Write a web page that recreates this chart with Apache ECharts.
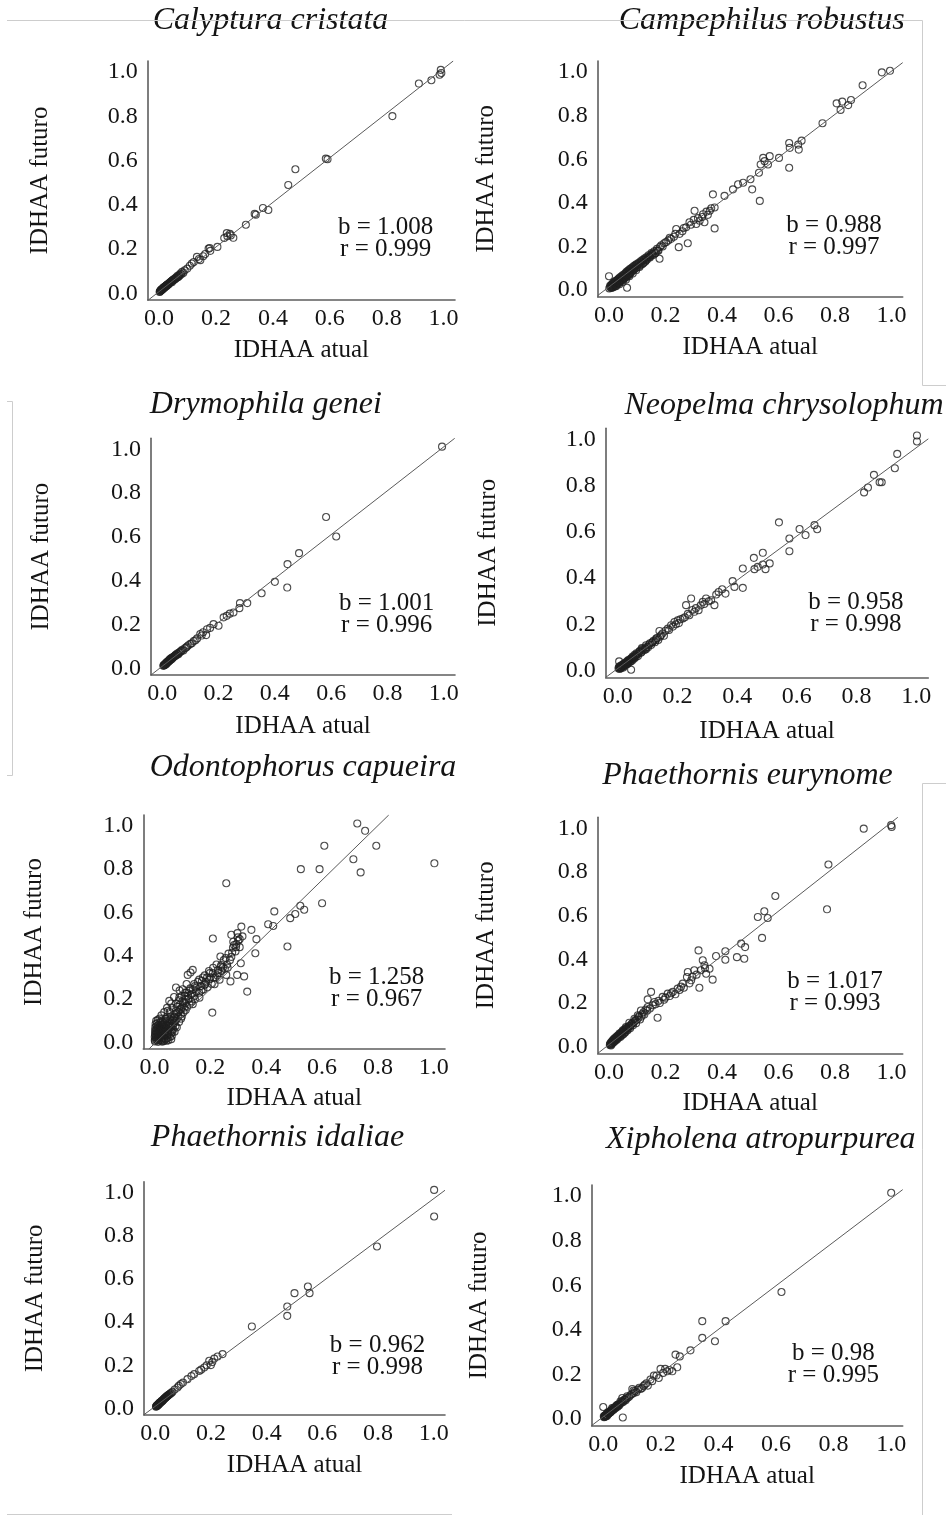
<!DOCTYPE html>
<html>
<head>
<meta charset="utf-8">
<script src="https://cdn.jsdelivr.net/npm/echarts@6/dist/echarts.min.js"></script>
<style>
  html, body { margin: 0; padding: 0; background: #ffffff; }
  #chart { width: 946px; height: 1515px; }
</style>
</head>
<body>
<div id="chart"></div>
<script>
// ---------------- data ----------------
const species = [
  'Calyptura cristata', 'Campephilus robustus',
  'Drymophila genei', 'Neopelma chrysolophum',
  'Odontophorus capueira', 'Phaethornis eurynome',
  'Phaethornis idaliae', 'Xipholena atropurpurea'
];
const slopes = [1.008, 0.988, 1.001, 0.958, 1.258, 1.017, 0.962, 0.98];
const intercepts = [0.008, 0.015, 0.01, 0.008, -0.005, 0.01, 0.01, 0.01];
const correlations = [0.999, 0.997, 0.996, 0.998, 0.967, 0.993, 0.998, 0.995];
const tickValues = [0, 0.2, 0.4, 0.6, 0.8, 1.0];
const xAxisTitle = 'IDHAA atual';
const yAxisTitle = 'IDHAA futuro';

// IDHAA atual (x), IDHAA futuro (y)
const calypturaCristata = [
  [0.990,1.010],[0.992,0.996],[0.986,0.988],[0.957,0.963],[0.913,0.948],[0.820,0.801],
  [0.586,0.609],[0.592,0.606],[0.479,0.561],[0.454,0.490],[0.384,0.377],[0.365,0.386],
  [0.336,0.359],[0.340,0.355],[0.305,0.310],[0.261,0.251],[0.238,0.272],[0.229,0.250],
  [0.249,0.269],[0.252,0.262],[0.240,0.258],[0.205,0.210],[0.180,0.192],[0.174,0.202],
  [0.178,0.205],[0.162,0.178],[0.145,0.150],[0.133,0.165],[0.122,0.142],[0.115,0.135],
  [0.108,0.125],[0.099,0.112],[0.090,0.104],[0.081,0.097],[0.075,0.090],[0.070,0.083],
  [0.064,0.078],[0.060,0.072],[0.056,0.068],[0.050,0.062],[0.046,0.058],[0.042,0.053],
  [0.038,0.049],[0.035,0.046],[0.031,0.041],[0.028,0.038],[0.025,0.035],[0.023,0.032],
  [0.020,0.029],[0.017,0.026],[0.015,0.024],[0.012,0.021],[0.010,0.018],[0.008,0.016],
  [0.006,0.013],[0.004,0.011],[0.003,0.008],[0.002,0.006],[0.045,0.050],[0.033,0.040],
  [0.027,0.033],[0.019,0.025],[0.013,0.019],[0.009,0.014],[0.052,0.060],[0.066,0.073],
  [0.085,0.092],[0.140,0.155],[0.155,0.168],
  [0.005,0.012],[0.007,0.016],[0.011,0.020],[0.014,0.022],[0.016,0.027],[0.018,0.025],
  [0.021,0.030],[0.024,0.033],[0.026,0.036],[0.029,0.039],[0.032,0.042],[0.036,0.045],
  [0.040,0.050],[0.044,0.055],[0.048,0.059],[0.054,0.063],[0.058,0.066],[0.062,0.070],
  [0.068,0.076],[0.072,0.080],[0.078,0.086]
];
const campephilusRobustus = [
  [0.995,1.005],[0.966,0.998],[0.898,0.939],[0.806,0.856],[0.826,0.864],[0.857,0.871],
  [0.820,0.826],[0.847,0.848],[0.756,0.765],[0.638,0.674],[0.640,0.652],[0.670,0.667],
  [0.682,0.685],[0.672,0.644],[0.638,0.561],[0.546,0.606],[0.551,0.591],[0.537,0.576],
  [0.563,0.576],[0.531,0.538],[0.602,0.606],[0.569,0.614],[0.501,0.508],[0.475,0.492],
  [0.457,0.485],[0.439,0.462],[0.507,0.462],[0.534,0.409],[0.409,0.432],[0.368,0.439],
  [0.374,0.379],[0.357,0.364],[0.333,0.348],[0.303,0.364],[0.374,0.283],[0.321,0.318],
  [0.338,0.311],[0.309,0.303],[0.285,0.311],[0.273,0.288],[0.238,0.280],[0.250,0.258],
  [0.279,0.215],[0.247,0.197],[0.220,0.235],[0.202,0.220],[0.185,0.205],[0.173,0.182],
  [0.179,0.144],[0.155,0.167],[0.143,0.152],[0.131,0.136],[0.120,0.121],[0.108,0.106],
  [0.096,0.091],[0.084,0.076],[0.072,0.064],[0.060,0.048],[0.049,0.038],[0.037,0.027],
  [0.025,0.018],[0.013,0.012],[0.001,0.008],[0.000,0.064],[0.064,0.011],
  [0.005,0.015],[0.008,0.022],[0.010,0.012],[0.012,0.028],[0.015,0.020],[0.018,0.035],
  [0.020,0.025],[0.022,0.040],[0.025,0.030],[0.028,0.045],[0.030,0.033],[0.032,0.050],
  [0.035,0.040],[0.038,0.058],[0.040,0.045],[0.043,0.062],[0.045,0.048],[0.048,0.068],
  [0.050,0.055],[0.053,0.072],[0.055,0.058],[0.058,0.078],[0.060,0.065],[0.063,0.085],
  [0.065,0.070],[0.068,0.090],[0.070,0.075],[0.073,0.095],[0.075,0.080],[0.078,0.100],
  [0.080,0.085],[0.083,0.105],[0.085,0.090],[0.088,0.110],[0.090,0.095],[0.093,0.115],
  [0.095,0.100],[0.098,0.120],[0.100,0.105],[0.105,0.125],[0.108,0.112],[0.112,0.132],
  [0.115,0.118],[0.118,0.138],[0.122,0.125],[0.125,0.145],[0.128,0.130],[0.132,0.150],
  [0.135,0.140],[0.140,0.160],[0.145,0.150],[0.150,0.170],[0.155,0.160],[0.160,0.178],
  [0.165,0.170],[0.170,0.190],[0.175,0.180],[0.180,0.198],[0.190,0.200],[0.195,0.215],
  [0.210,0.228],[0.215,0.240],[0.230,0.245],[0.235,0.258],[0.260,0.270],[0.265,0.285],
  [0.290,0.300],[0.300,0.322],[0.315,0.330],[0.330,0.335],[0.345,0.360],[0.350,0.345],
  [0.362,0.375],
  [0.004,0.020],[0.007,0.010],[0.009,0.026],[0.011,0.018],[0.014,0.032],[0.016,0.014],
  [0.019,0.028],[0.021,0.018],[0.024,0.042],[0.026,0.022],[0.029,0.038],[0.031,0.028],
  [0.034,0.052],[0.036,0.034],[0.039,0.048],[0.041,0.040],[0.044,0.056],[0.047,0.044],
  [0.049,0.064],[0.052,0.050],[0.054,0.066],[0.057,0.056],[0.059,0.074],[0.062,0.060],
  [0.064,0.080],[0.067,0.066],[0.069,0.084],[0.072,0.072],[0.074,0.090],[0.077,0.078],
  [0.082,0.096],[0.087,0.100],[0.092,0.106],[0.097,0.112],[0.103,0.118],[0.110,0.122],
  [0.117,0.130],[0.124,0.138],[0.130,0.142],[0.138,0.150],[0.147,0.158],[0.152,0.165],
  [0.162,0.168],[0.168,0.182]
];
const drymophilaGenei = [
  [0.994,1.012],[0.582,0.691],[0.618,0.602],[0.486,0.526],[0.445,0.476],[0.444,0.369],
  [0.400,0.395],[0.353,0.343],[0.302,0.298],[0.276,0.298],[0.274,0.275],[0.253,0.255],
  [0.240,0.250],[0.229,0.240],[0.218,0.233],[0.200,0.195],[0.182,0.202],[0.170,0.185],
  [0.159,0.179],[0.156,0.152],[0.145,0.165],[0.135,0.157],[0.124,0.137],[0.112,0.125],
  [0.100,0.112],[0.093,0.106],[0.088,0.100],[0.080,0.092],[0.071,0.085],[0.065,0.077],
  [0.060,0.072],[0.053,0.068],[0.047,0.060],[0.042,0.055],[0.035,0.050],[0.030,0.044],
  [0.025,0.038],[0.020,0.032],[0.016,0.027],[0.012,0.022],[0.009,0.018],[0.006,0.015],
  [0.004,0.012],[0.010,0.016],[0.014,0.020],[0.018,0.026],[0.022,0.030],[0.027,0.036],
  [0.033,0.042],[0.038,0.050],[0.050,0.060],[0.057,0.065],[0.075,0.082],[0.105,0.115],
  [0.118,0.128],[0.140,0.150],
  [0.005,0.013],[0.008,0.017],[0.011,0.019],[0.013,0.024],[0.015,0.023],[0.017,0.028],
  [0.019,0.030],[0.021,0.033],[0.024,0.034],[0.026,0.040],[0.029,0.040],[0.031,0.046],
  [0.036,0.046],[0.040,0.052],[0.045,0.056],[0.048,0.062],[0.055,0.066],[0.062,0.074],
  [0.068,0.080],[0.085,0.095]
];
const neopelmaChrysolophum = [
  [1.002,1.019],[1.002,0.993],[0.936,0.939],[0.928,0.877],[0.858,0.848],[0.838,0.793],
  [0.825,0.772],[0.877,0.816],[0.884,0.816],[0.540,0.642],[0.609,0.613],[0.629,0.587],
  [0.575,0.572],[0.575,0.517],[0.659,0.630],[0.668,0.612],[0.486,0.510],[0.456,0.488],
  [0.458,0.439],[0.469,0.449],[0.486,0.459],[0.509,0.464],[0.495,0.439],[0.419,0.442],
  [0.385,0.387],[0.391,0.362],[0.419,0.358],[0.350,0.352],[0.361,0.333],[0.330,0.329],
  [0.246,0.312],[0.229,0.283],[0.296,0.312],[0.285,0.297],[0.313,0.304],[0.324,0.283],
  [0.271,0.261],[0.257,0.254],[0.240,0.239],[0.218,0.225],[0.201,0.217],[0.190,0.210],
  [0.179,0.196],[0.168,0.181],[0.140,0.171],[0.145,0.152],[0.129,0.138],[0.117,0.123],
  [0.095,0.109],[0.081,0.097],[0.072,0.080],[0.061,0.065],[0.050,0.051],[0.039,0.039],
  [0.028,0.029],[0.017,0.019],[0.008,0.010],[0.005,0.039],[0.045,0.003],
  [0.003,0.008],[0.006,0.012],[0.010,0.015],[0.012,0.010],[0.014,0.022],[0.018,0.016],
  [0.020,0.026],[0.022,0.020],[0.025,0.030],[0.030,0.034],[0.033,0.028],[0.035,0.040],
  [0.040,0.044],[0.043,0.038],[0.046,0.052],[0.052,0.058],[0.055,0.050],[0.058,0.062],
  [0.065,0.070],[0.068,0.062],[0.075,0.085],[0.078,0.076],[0.085,0.090],[0.090,0.088],
  [0.098,0.102],[0.102,0.100],[0.108,0.118],[0.112,0.110],[0.120,0.128],[0.125,0.122],
  [0.132,0.140],[0.136,0.132],[0.150,0.160],[0.155,0.150],[0.160,0.172],[0.172,0.175],
  [0.185,0.190],[0.195,0.200],[0.205,0.205],[0.210,0.222],[0.225,0.230],[0.235,0.245],
  [0.250,0.262],[0.262,0.270],[0.278,0.282],[0.290,0.288],[0.305,0.300],[0.338,0.340],
  [0.004,0.014],[0.007,0.006],[0.009,0.020],[0.011,0.013],[0.013,0.018],[0.016,0.024],
  [0.019,0.012],[0.021,0.030],[0.024,0.022],[0.027,0.034],[0.029,0.026],[0.032,0.040],
  [0.034,0.032],[0.037,0.046],[0.041,0.036],[0.044,0.050],[0.048,0.042],[0.050,0.060],
  [0.054,0.054],[0.057,0.068],[0.061,0.058],[0.063,0.074],[0.070,0.072],[0.073,0.082],
  [0.080,0.080],[0.083,0.094],[0.092,0.096],[0.095,0.092],[0.105,0.112],[0.115,0.120],
  [0.128,0.132],[0.142,0.146]
];
const odontophorusCapueira = [
  [0.726,1.011],[0.754,0.977],[0.794,0.908],[0.608,0.908],[1.002,0.827],[0.712,0.846],
  [0.738,0.785],[0.524,0.800],[0.591,0.800],[0.257,0.735],[0.600,0.643],[0.522,0.631],
  [0.536,0.613],[0.504,0.593],[0.486,0.574],[0.429,0.605],[0.425,0.538],[0.407,0.546],
  [0.476,0.443],[0.365,0.477],[0.347,0.520],[0.361,0.412],[0.311,0.535],[0.297,0.505],
  [0.305,0.477],[0.293,0.454],[0.281,0.438],[0.275,0.497],[0.209,0.480],[0.309,0.366],
  [0.321,0.305],[0.332,0.235],[0.296,0.312],[0.272,0.282],[0.257,0.312],[0.236,0.397],
  [0.239,0.358],[0.227,0.334],[0.245,0.346],[0.209,0.320],[0.197,0.292],[0.173,0.300],
  [0.182,0.269],[0.215,0.269],[0.137,0.335],[0.119,0.312],[0.129,0.323],[0.207,0.138],
  [0.149,0.254],[0.125,0.238],[0.101,0.246],[0.077,0.254],[0.089,0.207],[0.113,0.200],
  [0.143,0.215],[0.161,0.207],[0.137,0.177],[0.107,0.161],[0.077,0.146],[0.053,0.192],
  [0.047,0.146],[0.071,0.115],[0.041,0.108],[0.029,0.084],[0.017,0.069],[0.011,0.046],
  [0.023,0.031],[0.005,0.023],[0.035,0.008],[0.059,0.054],[0.065,0.084],[0.095,0.130],
  [0.002,0.005],[0.004,0.015],[0.006,0.028],[0.008,0.040],[0.010,0.055],[0.012,0.068],
  [0.014,0.080],[0.003,0.035],[0.005,0.050],[0.007,0.062],[0.009,0.010],[0.011,0.020],
  [0.013,0.032],[0.015,0.045],[0.017,0.058],[0.019,0.072],[0.021,0.090],[0.016,0.010],
  [0.018,0.022],[0.020,0.036],[0.022,0.048],[0.024,0.062],[0.026,0.078],[0.028,0.095],
  [0.025,0.012],[0.027,0.025],[0.029,0.040],[0.031,0.055],[0.033,0.070],[0.035,0.088],
  [0.030,0.005],[0.034,0.020],[0.036,0.035],[0.038,0.050],[0.040,0.065],[0.042,0.082],
  [0.044,0.100],[0.040,0.015],[0.045,0.030],[0.048,0.045],[0.050,0.060],[0.052,0.078],
  [0.055,0.092],[0.050,0.010],[0.055,0.025],[0.058,0.040],[0.060,0.070],[0.062,0.100],
  [0.066,0.060],[0.070,0.090],[0.072,0.130],[0.075,0.075],[0.080,0.110],[0.082,0.165],
  [0.085,0.140],[0.088,0.095],[0.092,0.175],[0.095,0.155],[0.098,0.120],[0.100,0.190],
  [0.104,0.140],[0.108,0.215],[0.110,0.180],[0.115,0.230],[0.118,0.165],[0.122,0.200],
  [0.128,0.250],[0.132,0.190],[0.135,0.225],[0.142,0.270],[0.145,0.200],[0.150,0.235],
  [0.155,0.280],[0.160,0.230],[0.165,0.260],[0.170,0.285],[0.175,0.245],[0.180,0.310],
  [0.185,0.280],[0.190,0.255],[0.195,0.330],[0.200,0.300],[0.205,0.270],[0.210,0.345],
  [0.218,0.300],[0.222,0.360],[0.228,0.320],[0.233,0.290],[0.240,0.330],[0.248,0.380],
  [0.252,0.340],[0.260,0.360],[0.265,0.410],[0.270,0.380],[0.278,0.415],[0.285,0.450],
  [0.290,0.420],[0.300,0.470],[0.305,0.440],[0.315,0.490],[0.060,0.180],[0.070,0.210],
  [0.090,0.240],[0.115,0.270],[0.018,0.110],[0.025,0.125],[0.035,0.140],[0.045,0.160],
  [0.001,0.010],[0.001,0.025],[0.002,0.040],[0.002,0.055],[0.003,0.070],[0.004,0.085],
  [0.006,0.100],[0.008,0.075],[0.010,0.090],[0.012,0.105],[0.013,0.003],[0.014,0.018],
  [0.016,0.030],[0.018,0.042],[0.020,0.055],[0.022,0.068],[0.023,0.080],[0.024,0.100],
  [0.026,0.005],[0.028,0.015],[0.030,0.028],[0.032,0.045],[0.034,0.060],[0.036,0.075],
  [0.038,0.095],[0.040,0.110],[0.043,0.008],[0.046,0.020],[0.048,0.035],[0.050,0.050],
  [0.052,0.068],[0.054,0.085],[0.056,0.105],[0.058,0.120],[0.060,0.015],[0.062,0.030],
  [0.064,0.048],[0.066,0.075],[0.068,0.105],[0.070,0.120],[0.072,0.050],[0.075,0.100],
  [0.078,0.135],[0.080,0.070],[0.085,0.120],[0.090,0.150],[0.095,0.110],[0.100,0.165],
  [0.105,0.185],[0.112,0.150],[0.120,0.215],[0.125,0.175],[0.130,0.220],[0.138,0.245],
  [0.145,0.260],[0.160,0.290],[0.168,0.240],[0.178,0.265],[0.188,0.300],[0.198,0.320],
  [0.212,0.300],[0.225,0.310],[0.238,0.350],[0.255,0.390],[0.262,0.345],[0.275,0.395],
  [0.282,0.465],[0.292,0.440],[0.298,0.485],[0.045,0.120],[0.055,0.140],[0.065,0.160],
  [0.078,0.180],[0.088,0.195],[0.098,0.215],[0.110,0.230]
];
const phaethornisEurynome = [
  [0.999,1.014],[1.001,1.006],[0.902,0.998],[0.777,0.834],[0.772,0.629],[0.589,0.690],
  [0.550,0.620],[0.527,0.594],[0.562,0.589],[0.542,0.498],[0.468,0.472],[0.482,0.456],
  [0.453,0.410],[0.479,0.403],[0.412,0.437],[0.412,0.398],[0.379,0.415],[0.317,0.441],
  [0.367,0.307],[0.320,0.270],[0.356,0.357],[0.338,0.373],[0.332,0.396],[0.344,0.334],
  [0.302,0.350],[0.279,0.342],[0.276,0.319],[0.291,0.304],[0.261,0.289],[0.243,0.266],
  [0.226,0.251],[0.208,0.243],[0.190,0.228],[0.149,0.251],[0.137,0.217],[0.172,0.133],
  [0.161,0.205],[0.137,0.182],[0.113,0.166],[0.102,0.144],[0.090,0.128],[0.072,0.110],
  [0.060,0.090],[0.049,0.075],[0.037,0.060],[0.025,0.040],[0.013,0.025],[0.005,0.014],
  [0.003,0.008],[0.006,0.018],[0.008,0.010],[0.010,0.022],[0.012,0.015],[0.015,0.030],
  [0.018,0.022],[0.020,0.035],[0.022,0.028],[0.026,0.045],[0.028,0.032],[0.030,0.050],
  [0.033,0.040],[0.036,0.055],[0.040,0.045],[0.042,0.062],[0.045,0.052],[0.048,0.068],
  [0.052,0.058],[0.055,0.080],[0.058,0.066],[0.062,0.085],[0.066,0.075],[0.070,0.095],
  [0.075,0.085],[0.080,0.105],[0.085,0.098],[0.092,0.118],[0.096,0.108],[0.105,0.135],
  [0.110,0.125],[0.118,0.150],[0.125,0.148],[0.130,0.170],[0.145,0.175],[0.155,0.190],
  [0.165,0.195],[0.175,0.210],[0.180,0.200],[0.195,0.215],[0.200,0.225],[0.215,0.232],
  [0.220,0.245],[0.235,0.240],[0.250,0.260],[0.255,0.275],[0.265,0.270],[0.285,0.290],
  [0.295,0.320],[0.310,0.330],[0.325,0.350],[0.340,0.360],
  [0.004,0.012],[0.007,0.006],[0.009,0.016],[0.011,0.026],[0.014,0.020],[0.016,0.034],
  [0.019,0.028],[0.021,0.040],[0.024,0.032],[0.027,0.038],[0.031,0.044],[0.034,0.052],
  [0.038,0.048],[0.041,0.058],[0.044,0.066],[0.047,0.056],[0.051,0.070],[0.054,0.064],
  [0.057,0.074],[0.060,0.080],[0.064,0.078],[0.068,0.088],[0.073,0.092],[0.078,0.098],
  [0.083,0.108],[0.088,0.112],[0.094,0.122],[0.100,0.125],[0.107,0.140],[0.115,0.138],
  [0.122,0.158],[0.135,0.165]
];
const phaethornisIdaliae = [
  [1.001,1.012],[1.001,0.889],[0.796,0.750],[0.548,0.565],[0.554,0.534],[0.500,0.534],
  [0.474,0.472],[0.474,0.429],[0.347,0.380],[0.242,0.252],[0.224,0.241],[0.212,0.231],
  [0.200,0.201],[0.194,0.221],[0.205,0.215],[0.176,0.190],[0.185,0.200],[0.158,0.174],
  [0.165,0.180],[0.140,0.159],[0.130,0.150],[0.116,0.136],[0.100,0.120],[0.092,0.113],
  [0.085,0.105],[0.080,0.097],[0.070,0.088],[0.062,0.077],[0.055,0.070],[0.050,0.065],
  [0.044,0.059],[0.038,0.052],[0.032,0.045],[0.026,0.035],[0.020,0.030],[0.015,0.025],
  [0.011,0.020],[0.008,0.015],[0.005,0.012],[0.003,0.008],[0.012,0.018],[0.018,0.027],
  [0.023,0.031],[0.029,0.040],[0.035,0.048],[0.041,0.055],[0.047,0.062],[0.058,0.072],
  [0.004,0.010],[0.006,0.014],[0.007,0.012],[0.009,0.017],[0.010,0.016],[0.013,0.022],
  [0.014,0.021],[0.016,0.027],[0.017,0.024],[0.019,0.029],[0.022,0.033],[0.024,0.036],
  [0.028,0.038],[0.030,0.043],[0.034,0.046],[0.037,0.050],[0.040,0.054],[0.043,0.057],
  [0.046,0.060],[0.052,0.066]
];
const xipholenaAtropurpurea = [
  [1.000,1.015],[0.619,0.570],[0.425,0.439],[0.344,0.439],[0.344,0.364],[0.388,0.349],
  [0.303,0.308],[0.251,0.289],[0.266,0.281],[0.257,0.232],[0.240,0.214],[0.222,0.214],
  [0.199,0.225],[0.208,0.207],[0.193,0.184],[0.176,0.195],[0.164,0.177],[0.144,0.154],
  [0.135,0.139],[0.101,0.135],[0.106,0.117],[0.083,0.102],[0.066,0.094],[0.060,0.079],
  [0.049,0.064],[0.031,0.049],[0.014,0.027],[0.002,0.012],[0.000,0.054],[0.068,0.007],
  [0.004,0.010],[0.006,0.016],[0.008,0.012],[0.010,0.020],[0.012,0.016],[0.015,0.025],
  [0.018,0.022],[0.020,0.030],[0.023,0.028],[0.026,0.038],[0.028,0.034],[0.032,0.042],
  [0.035,0.040],[0.038,0.050],[0.042,0.048],[0.045,0.058],[0.050,0.055],[0.053,0.066],
  [0.056,0.062],[0.062,0.072],[0.065,0.080],[0.070,0.078],[0.075,0.088],[0.078,0.084],
  [0.085,0.095],[0.090,0.100],[0.095,0.108],[0.110,0.125],[0.115,0.120],[0.120,0.132],
  [0.125,0.140],[0.130,0.135],[0.140,0.148],[0.150,0.160],[0.155,0.150],[0.170,0.170],
  [0.185,0.195],[0.215,0.225],[0.230,0.220],
  [0.003,0.008],[0.005,0.013],[0.007,0.010],[0.009,0.016],[0.011,0.019],[0.013,0.014],
  [0.016,0.022],[0.017,0.027],[0.019,0.025],[0.022,0.032],[0.025,0.030],[0.027,0.036],
  [0.030,0.038],[0.033,0.045],[0.037,0.044],[0.040,0.052],[0.044,0.052],[0.047,0.060],
  [0.052,0.060],[0.058,0.068],[0.067,0.076],[0.073,0.086],[0.080,0.092],[0.100,0.112],
  [0.105,0.128]
];
const panelPoints = [
  calypturaCristata, campephilusRobustus, drymophilaGenei, neopelmaChrysolophum,
  odontophorusCapueira, phaethornisEurynome, phaethornisIdaliae, xipholenaAtropurpurea
];

// ---------------- layout ----------------
const xRange = [-0.04, 1.04];
const yRange = [-0.03, 1.05];
// plot boxes: [left, top, right, bottom]
const plotBoxes = [
  [147.7, 61, 455, 300], [597.7, 61, 902.7, 296.7],
  [151, 438.3, 455, 675], [605.7, 428.3, 928.3, 677.3],
  [143.3, 815, 445, 1049], [597.7, 817.3, 902.7, 1053.3],
  [144, 1181.7, 445, 1415], [591.7, 1185, 902.7, 1425.7]
];
// title: [centre x, baseline y]
const titleAnchors = [
  [270.5, 31.7], [761.7, 31.7], [265.8, 415], [784, 416.7],
  [303, 778], [747.5, 786.7], [277.5, 1148.3], [760.8, 1150]
];
// statistics block: [centre x, middle y]
const statAnchors = [
  [385.7, 238.5], [834, 236.7], [386.7, 614], [855.8, 613.3],
  [376.7, 988.3], [835, 992.5], [377.5, 1356], [833.3, 1364]
];
const xNameGaps = [38, 38, 39, 41.5, 36.5, 37.5, 38, 38.5];
const yNameGaps = [95, 98.5, 97, 105, 96, 98.5, 96.5, 99.5];

const SERIF = '"Liberation Serif", "Times New Roman", serif';
const INK = '#141414';
const TITLE_SIZE = 32;
const TEXT_SIZE = 25;

function regressionSegment(a, b) {
  // y = a + b*x, clipped to the visible window
  const xa = (yRange[0] - a) / b, xb = (yRange[1] - a) / b;
  const x0 = Math.max(xRange[0], Math.min(xa, xb));
  const x1 = Math.min(xRange[1], Math.max(xa, xb));
  return [[x0, a + b * x0], [x1, a + b * x1]];
}

const grids = [], xAxes = [], yAxes = [], series = [], graphics = [];
plotBoxes.forEach((box, i) => {
  grids.push({
    left: box[0], top: box[1], width: box[2] - box[0], height: box[3] - box[1],
    containLabel: false, outerBoundsMode: 'none'
  });
  const axisCommon = {
    type: 'value', gridIndex: i,
    axisLine: { show: true, onZero: false, lineStyle: { color: '#5e5e5e', width: 1.6 } },
    axisTick: { show: false },
    splitLine: { show: false },
    nameLocation: 'middle',
    nameTextStyle: { fontFamily: SERIF, fontSize: TEXT_SIZE, color: INK }
  };
  xAxes.push(Object.assign({}, axisCommon, {
    min: xRange[0], max: xRange[1],
    name: xAxisTitle, nameGap: xNameGaps[i],
    axisLabel: {
      customValues: tickValues, formatter: v => v.toFixed(1),
      fontFamily: SERIF, fontSize: 24, color: INK, margin: 7
    }
  }));
  yAxes.push(Object.assign({}, axisCommon, {
    min: yRange[0], max: yRange[1],
    name: yAxisTitle, nameGap: yNameGaps[i], nameRotate: 90,
    axisLabel: {
      customValues: tickValues, formatter: v => v.toFixed(1),
      fontFamily: SERIF, fontSize: 24, color: INK, margin: 10
    }
  }));
  series.push({
    type: 'scatter', xAxisIndex: i, yAxisIndex: i,
    data: panelPoints[i], symbol: 'circle', symbolSize: 7,
    itemStyle: { color: 'rgba(0,0,0,0)', borderColor: '#1f1f1f', borderWidth: 1.1 },
    silent: true, z: 2
  });
  series.push({
    type: 'line', xAxisIndex: i, yAxisIndex: i,
    data: regressionSegment(intercepts[i], slopes[i]),
    showSymbol: false, symbol: 'none', silent: true, clip: true,
    lineStyle: { color: '#5a5a5a', width: 1 }, z: 3
  });
  graphics.push({
    type: 'text', x: titleAnchors[i][0], y: titleAnchors[i][1] - 0.34 * TITLE_SIZE,
    style: {
      text: species[i], fill: INK,
      font: 'italic ' + TITLE_SIZE + 'px ' + SERIF,
      align: 'center', verticalAlign: 'middle', textAlign: 'center', textVerticalAlign: 'middle'
    }
  });
  graphics.push({
    type: 'text', x: statAnchors[i][0], y: statAnchors[i][1],
    style: {
      text: 'b = ' + slopes[i] + '\nr = ' + correlations[i], fill: INK,
      font: TEXT_SIZE + 'px ' + SERIF, lineHeight: 22,
      align: 'center', verticalAlign: 'middle', textAlign: 'center', textVerticalAlign: 'middle'
    }
  });
});

// thin page frame rules around the figure panels
const frameStyle = { stroke: '#cdcdcd', lineWidth: 1, fill: null };
[
  [[7, 20.5], [922.5, 20.5], [922.5, 385.5], [946, 385.5]],
  [[7, 401.5], [12.5, 401.5], [12.5, 775.5], [7, 775.5]],
  [[946, 783.5], [922.5, 783.5], [922.5, 1515]],
  [[7, 1514.5], [452, 1514.5]]
].forEach(pts => graphics.push({ type: 'polyline', shape: { points: pts }, style: frameStyle, silent: true }));

const chart = echarts.init(document.getElementById('chart'), null, { renderer: 'canvas' });
chart.setOption({
  backgroundColor: '#ffffff',
  animation: false,
  grid: grids,
  xAxis: xAxes,
  yAxis: yAxes,
  series: series,
  graphic: graphics
});
</script>
</body>
</html>
